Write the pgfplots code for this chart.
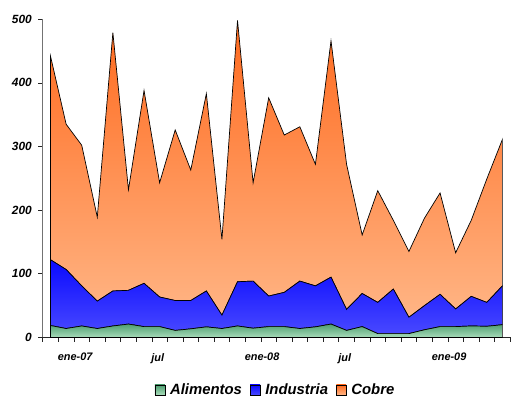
\documentclass[border=0pt]{standalone}
\usepackage{pgfplots}
\pgfplotsset{compat=1.18}
\usepackage{fontspec}
\setmainfont{Liberation Sans}
\definecolor{orTop}{HTML}{FF6A1E}
\definecolor{orBot}{HTML}{FFB585}
\definecolor{blTop}{HTML}{0A0AFF}
\definecolor{blBot}{HTML}{4848FF}
\definecolor{grTop}{HTML}{4E9E70}
\definecolor{grBot}{HTML}{A8DCBA}
\begin{document}
\begin{tikzpicture}
\begin{axis}[
  name=ax,
  scale only axis,
  width=470bp, height=320bp,
  xmin=-0.5, xmax=29.5, ymin=0, ymax=500,
  stack plots=y,
  axis x line*=bottom, axis y line*=left,
  x axis line style={black!85, line width=0.6pt},
  y axis line style={black!55, line width=1.3pt},
  tick align=outside,
  major tick length=4.5bp,
  tick style={black!85, line width=0.6pt},
  ytick={0,100,200,300,400,500},
  xtick={-0.5,0.5,...,29.5},
  xticklabels={,ene-07,,,,,,jul,,,,,,ene-08,,,,,,jul,,,,,,ene-09,,,,,},
  /pgf/number format/assume math mode=true,
  yticklabel style={font=\fontsize{12}{14}\selectfont\bfseries\itshape, xshift=-3bp},
  xticklabel style={font=\fontsize{11}{13}\selectfont\bfseries\itshape, anchor=north west, xshift=-4bp, yshift=-8bp},
  legend columns=-1,
  legend style={at={(0.498,-0.165)}, anchor=center, draw=none, fill=none,
    font=\fontsize{15}{17}\selectfont\bfseries\itshape,
    /tikz/every odd column/.append style={column sep=3bp},
    /tikz/every even column/.append style={column sep=6bp}},
  legend image code/.code={\draw[#1, draw=black, line width=0.5pt] (0bp,-5bp) rectangle (10bp,5bp);},
]
\addplot[draw=black, line width=0.7pt, shade, top color=grTop, bottom color=grBot] coordinates {
(0,18.7) (1,14) (2,18) (3,14) (4,18) (5,21) (6,17) (7,17) (8,11) (9,13.5)
(10,16.6) (11,14) (12,18) (13,14.5) (14,17) (15,17) (16,14) (17,16.6) (18,21) (19,11)
(20,17) (21,6) (22,6) (23,6) (24,12) (25,17) (26,17) (27,18) (28,17.5) (29,20)
} \closedcycle;
\addlegendentry{Alimentos}
\addplot[draw=black, line width=0.7pt, shade, top color=blTop, bottom color=blBot] coordinates {
(0,103.3) (1,92.7) (2,63) (3,43) (4,55) (5,53) (6,68) (7,46.5) (8,47) (9,44.5)
(10,56.4) (11,21) (12,69.5) (13,74) (14,48) (15,53.8) (16,74.5) (17,64.4) (18,73.7) (19,33)
(20,52) (21,49) (22,70) (23,25.7) (24,38) (25,50.7) (26,27.7) (27,46.5) (28,37.5) (29,61)
} \closedcycle;
\addlegendentry{Industria}
\addplot[draw=black, line width=0.7pt, shade, top color=orTop, bottom color=orBot] coordinates {
(0,319.6) (1,228.3) (2,221) (3,132) (4,406) (5,158) (6,303) (7,179.5) (8,268) (9,205)
(10,310) (11,119) (12,410.5) (13,154.5) (14,311.5) (15,247.2) (16,242.5) (17,191) (18,371.3) (19,228)
(20,92) (21,175.6) (22,108) (23,103.3) (24,137.5) (25,159.3) (26,88.3) (27,119.5) (28,194) (29,230)
} \closedcycle;
\addlegendentry{Cobre}
\node[font=\fontsize{13}{15}\selectfont\bfseries] at (axis cs:14.55,207) {Cobre};
\end{axis}
\path (ax.south west) ++(-43bp,-55bp) coordinate (bl);
\path (ax.north east) ++(0bp,19.3bp) coordinate (tr);
\path (bl) rectangle (tr);
\end{tikzpicture}
\end{document}
